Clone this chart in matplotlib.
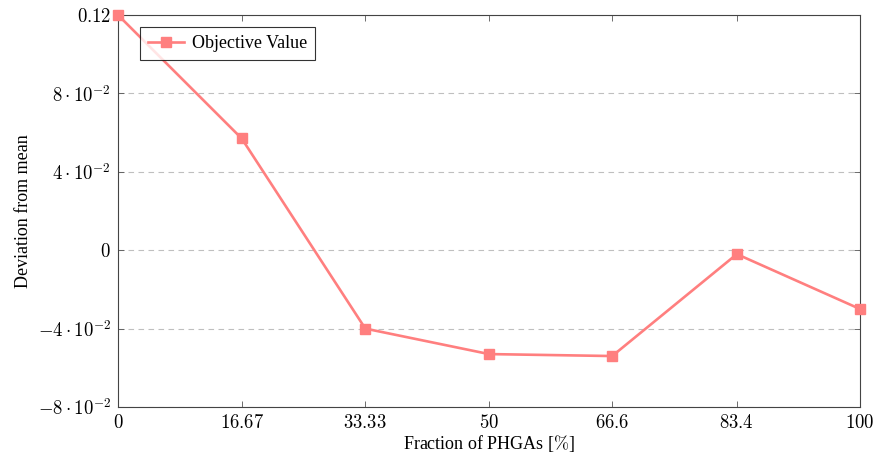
import matplotlib
matplotlib.use("Agg")
import matplotlib.pyplot as plt

# ── Data ─────────────────────────────────────────────────────────────────────
FRACTION = [0, 16.67, 33.33, 50, 66.6, 83.4, 100]
OBJECTIVE = [0.12, 0.057, -0.040, -0.053, -0.054, -0.002, -0.030]

Y_TICKS = [-0.08, -0.04, 0, 0.04, 0.08, 0.12]
Y_TICK_LABELS = [r"$-8\cdot10^{-2}$", r"$-4\cdot10^{-2}$", r"$0$",
                 r"$4\cdot10^{-2}$", r"$8\cdot10^{-2}$", r"$0.12$"]
X_TICK_LABELS = [r"$0$", r"$16.67$", r"$33.33$", r"$50$", r"$66.6$", r"$83.4$", r"$100$"]

LINE_COLOR = "#ff7f7f"

plt.rcParams["font.family"] = ["Liberation Serif", "DejaVu Serif"]
plt.rcParams["mathtext.fontset"] = "cm"


def main():
    fig = plt.figure(figsize=(8.76, 4.59), dpi=100)
    ax = fig.add_axes([118 / 876, 52 / 459, 742 / 876, 392 / 459])

    ax.plot(FRACTION, OBJECTIVE, "s-", color=LINE_COLOR, linewidth=1.9,
            markersize=6.5, label="Objective Value", zorder=3, clip_on=False)

    ax.set_xlim(0, 100)
    ax.set_ylim(-0.08, 0.12)
    ax.set_xticks(FRACTION)
    ax.set_xticklabels(X_TICK_LABELS, fontsize=13.5)
    ax.set_yticks(Y_TICKS)
    ax.set_yticklabels(Y_TICK_LABELS, fontsize=13.5)

    ax.tick_params(direction="in", top=True, right=True, length=4,
                   width=0.6, color="#555555", pad=5)
    ax.grid(True, axis="y", linestyle=(0, (5, 4)), color="#bfbfbf", linewidth=0.8)
    for s in ax.spines.values():
        s.set_color("#444444")
        s.set_linewidth(0.8)

    ax.set_xlabel(r"Fraction of PHGAs [$\%$]", fontsize=13, labelpad=1)
    ax.set_ylabel("Deviation from mean", fontsize=13, labelpad=4)

    leg = ax.legend(loc="upper left", bbox_to_anchor=(0.03, 0.969), borderaxespad=0,
                    fontsize=13, frameon=True, fancybox=False, borderpad=0.45,
                    handlelength=2.0, handletextpad=0.4)
    leg.get_frame().set_edgecolor("black")
    leg.get_frame().set_linewidth(0.8)

    fig.savefig("out.png", dpi=100)
    plt.close(fig)


if __name__ == "__main__":
    main()
